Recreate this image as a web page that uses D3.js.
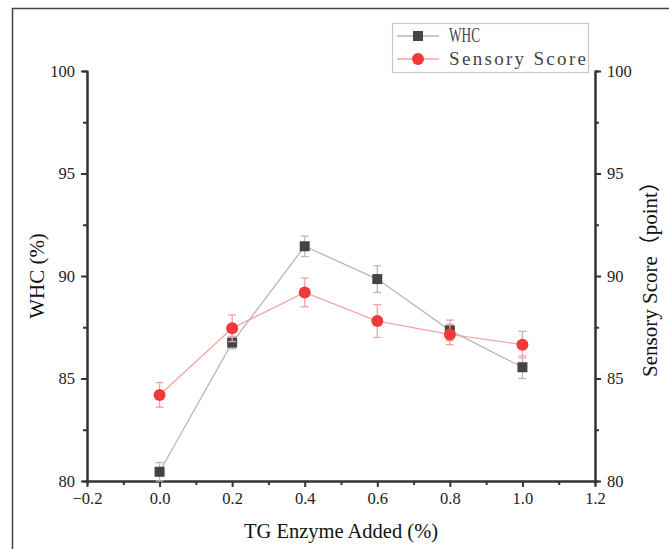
<!DOCTYPE html>
<html><head><meta charset="utf-8">
<script src="https://cdn.jsdelivr.net/npm/d3@7"></script>
<style>body{margin:0;background:#fff}svg{display:block}</style>
</head><body><svg id="c" width="669" height="549"></svg>
<script>
const xValues = [0.0, 0.2, 0.4, 0.6, 0.8, 1.0];
const whc = [80.45, 86.75, 91.45, 89.85, 87.35, 85.55];
const whcErr = [0.45, 0.3, 0.5, 0.65, 0.5, 0.55];
const sensory = [84.2, 87.45, 89.2, 87.8, 87.15, 86.65];
const sensoryErr = [0.6, 0.65, 0.7, 0.8, 0.5, 0.65];
const xTicks = [-0.2, 0.0, 0.2, 0.4, 0.6, 0.8, 1.0, 1.2];
const yTicks = [80, 85, 90, 95, 100];
const seriesNames = ["WHC", "Sensory Score"];

const svg = d3.select("#c");
const font = "'Liberation Serif','Times New Roman','Noto Sans CJK SC',serif";
const L = 87, R = 595, T = 71, B = 481;
const x = d3.scaleLinear().domain([-0.2, 1.2]).range([L, R]);
const yL = d3.scaleLinear().domain([80, 100]).range([B, T]);
const yR = d3.scaleLinear().domain([80, 100]).range([B, T]);

// outer frame
svg.append("path").attr("d", "M12.5,549 L12.5,8.5 L669,8.5").attr("fill", "none").attr("stroke", "#444").attr("stroke-width", 1.5);

const axColor = "#333";
function styleAxis(g) {
  g.selectAll("path.domain").attr("stroke", axColor).attr("stroke-width", 2);
  g.selectAll("line").attr("stroke", axColor).attr("stroke-width", 2);
  g.selectAll("text").attr("font-family", font).attr("font-size", 16.5).attr("fill", "#222");
}
const minorX = d3.range(-0.1, 1.2, 0.2);
const minorY = d3.range(82.5, 100, 5);

// bottom axis
svg.append("g").attr("transform", `translate(0,${B})`)
  .call(d3.axisBottom(x).tickValues(minorX).tickSize(4).tickFormat("")).call(styleAxis);
svg.append("g").attr("transform", `translate(0,${B})`)
  .call(d3.axisBottom(x).tickValues(xTicks).tickSize(6).tickSizeOuter(0).tickPadding(5).tickFormat(d3.format(".1f")))
  .call(styleAxis)
  .selectAll("text").text(d => d3.format(".1f")(d).replace("-", "\u2212"));
// left axis
svg.append("g").attr("transform", `translate(${L},0)`)
  .call(d3.axisLeft(yL).tickValues(minorY).tickSize(4).tickFormat("")).call(styleAxis);
svg.append("g").attr("transform", `translate(${L},0)`)
  .call(d3.axisLeft(yL).tickValues(yTicks).tickSize(6).tickSizeOuter(0).tickPadding(6)).call(styleAxis);
// right axis
svg.append("g").attr("transform", `translate(${R},0)`)
  .call(d3.axisRight(yR).tickValues(minorY).tickSize(4).tickFormat("")).call(styleAxis);
svg.append("g").attr("transform", `translate(${R},0)`)
  .call(d3.axisRight(yR).tickValues(yTicks).tickSize(6).tickSizeOuter(0).tickPadding(6)).call(styleAxis);

// axis titles
svg.append("text").attr("x", 341).attr("y", 538).attr("text-anchor", "middle")
  .attr("font-family", font).attr("font-size", 20.5).attr("fill", "#111").text("TG Enzyme Added (%)");
svg.append("text").attr("transform", "translate(44,276) rotate(-90)").attr("text-anchor", "middle")
  .attr("font-family", font).attr("font-size", 21).attr("fill", "#111").text("WHC (%)");
svg.append("text").attr("transform", "translate(657,274) rotate(-90)").attr("text-anchor", "middle")
  .attr("font-family", font).attr("font-size", 21).attr("fill", "#111").text("Sensory Score（point）");

function drawSeries(vals, errs, y, lineColor, markColor, shape) {
  const g = svg.append("g");
  const pts = xValues.map((d, i) => ({x: d, v: vals[i], e: errs[i]}));
  g.append("path").datum(pts).attr("fill", "none").attr("stroke", lineColor).attr("stroke-width", 1.3)
    .attr("d", d3.line().x(d => x(d.x)).y(d => y(d.v)));
  const eb = g.selectAll("g.eb").data(pts).join("g").attr("stroke", lineColor).attr("stroke-width", 1.3);
  eb.append("line").attr("x1", d => x(d.x)).attr("x2", d => x(d.x)).attr("y1", d => y(d.v - d.e)).attr("y2", d => y(d.v + d.e));
  eb.append("line").attr("x1", d => x(d.x) - 4).attr("x2", d => x(d.x) + 4).attr("y1", d => y(d.v + d.e)).attr("y2", d => y(d.v + d.e));
  eb.append("line").attr("x1", d => x(d.x) - 4).attr("x2", d => x(d.x) + 4).attr("y1", d => y(d.v - d.e)).attr("y2", d => y(d.v - d.e));
  if (shape === "square") {
    g.selectAll("rect").data(pts).join("rect").attr("x", d => x(d.x) - 5).attr("y", d => y(d.v) - 5)
      .attr("width", 10).attr("height", 10).attr("fill", markColor);
  } else {
    g.selectAll("circle").data(pts).join("circle").attr("cx", d => x(d.x)).attr("cy", d => y(d.v))
      .attr("r", 6).attr("fill", markColor);
  }
}
drawSeries(whc, whcErr, yL, "#b8b8b8", "#444444", "square");
drawSeries(sensory, sensoryErr, yR, "#f6a3a3", "#f03a3a", "circle");

// legend
const lg = svg.append("g");
lg.append("rect").attr("x", 392.5).attr("y", 23.5).attr("width", 196).attr("height", 49)
  .attr("fill", "#fff").attr("stroke", "#c8c8c8").attr("stroke-width", 1.2);
const rows = [{name: seriesNames[0], y: 36, lc: "#b8b8b8", mc: "#444444", s: "square", w: 31, adj: "spacingAndGlyphs", fs: 20},
              {name: seriesNames[1], y: 59, lc: "#f6a3a3", mc: "#f03a3a", s: "circle", w: 137, adj: "spacing", fs: 19}];
rows.forEach(r => {
  lg.append("line").attr("x1", 397).attr("x2", 439).attr("y1", r.y).attr("y2", r.y).attr("stroke", r.lc).attr("stroke-width", 1.3);
  if (r.s === "square") lg.append("rect").attr("x", 413).attr("y", r.y - 5).attr("width", 10).attr("height", 10).attr("fill", r.mc);
  else lg.append("circle").attr("cx", 418).attr("cy", r.y).attr("r", 6).attr("fill", r.mc);
  lg.append("text").attr("x", 449).attr("y", r.y + 6).attr("font-family", font).attr("font-size", r.fs)
    .attr("fill", "#444").attr("textLength", r.w).attr("lengthAdjust", r.adj).text(r.name);
});
</script></body></html>
